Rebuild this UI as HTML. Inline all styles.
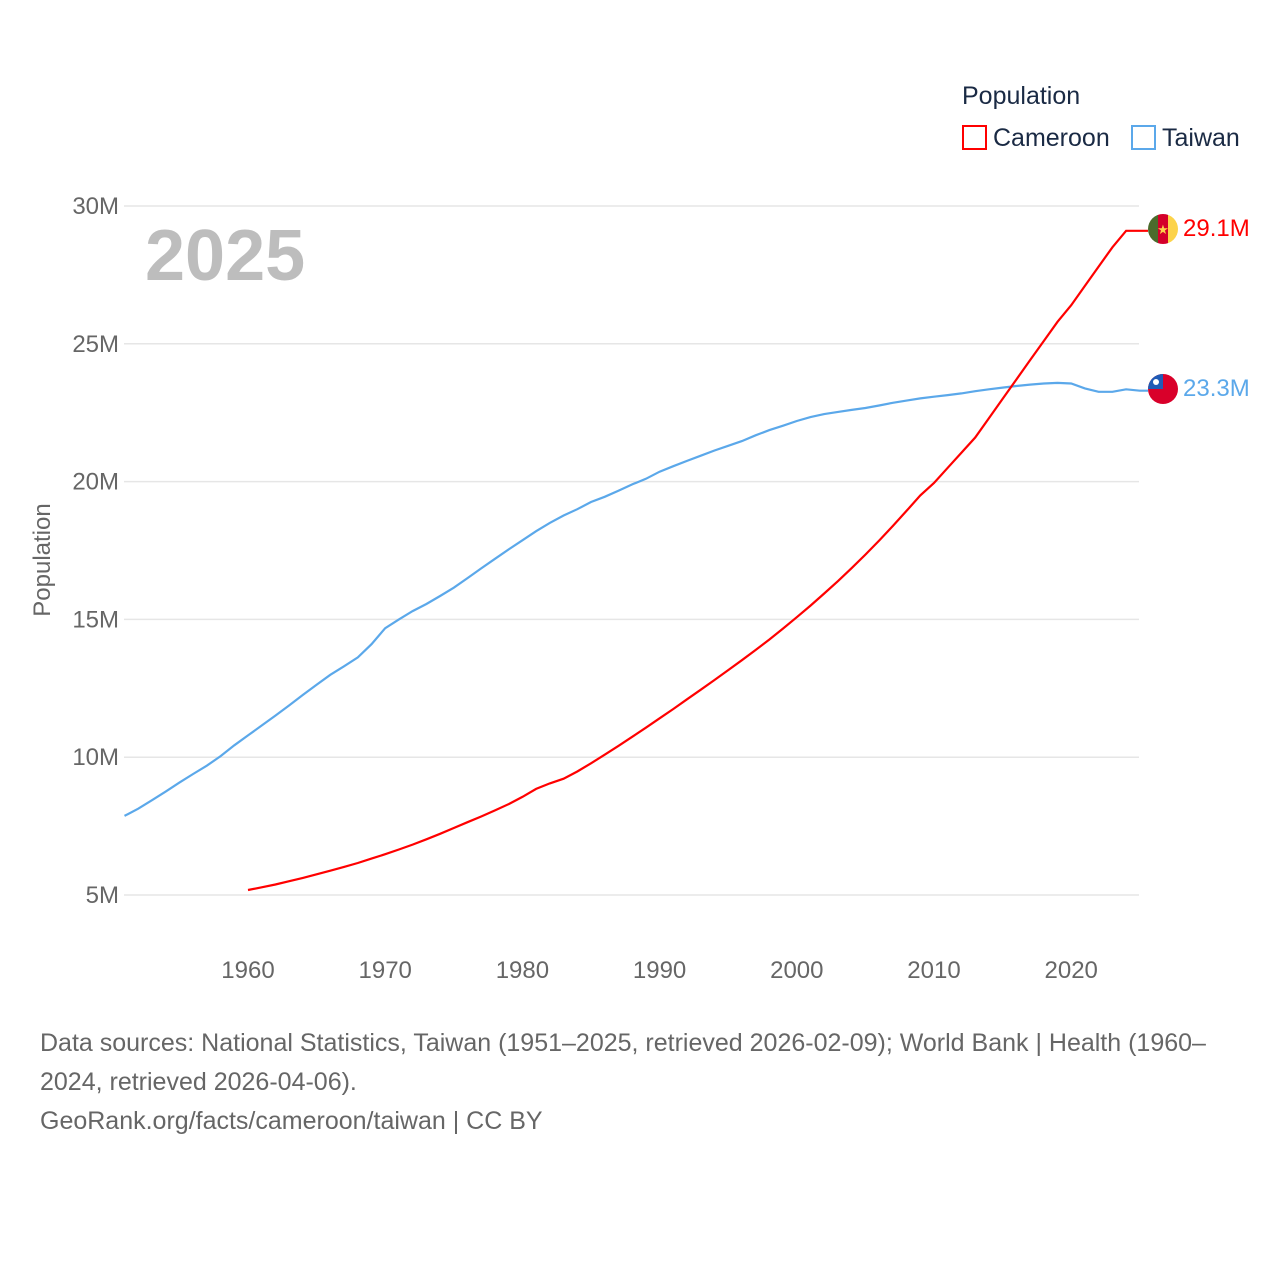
<!DOCTYPE html>
<html><head><meta charset="utf-8"><style>
html,body{margin:0;padding:0;background:#fff;width:1280px;height:1280px;overflow:hidden;font-family:"Liberation Sans",sans-serif}
svg{position:absolute;left:0;top:0}
.foot{position:absolute;left:40px;top:1024px;width:1220px;font-size:25px;line-height:39px;color:#666}
</style></head><body>
<svg width="1280" height="1280">
<g id="grid"></g>
<g id="yt"></g>
<g id="xt"></g>
<text x="50" y="560" transform="rotate(-90 50 560)" text-anchor="middle" font-size="24" fill="#666">Population</text>
<text x="145" y="280" font-size="72" font-weight="bold" fill="#bdbdbd">2025</text>
<text x="962" y="104" font-size="25" fill="#1a2a44">Population</text>
<g><rect x="963" y="126" width="23" height="23" fill="none" stroke="#ff0000" stroke-width="2"/><text x="993" y="146" font-size="25" fill="#1a2a44">Cameroon</text></g>
<g><rect x="1132" y="126" width="23" height="23" fill="none" stroke="#5ba8ea" stroke-width="2"/><text x="1162" y="146" font-size="25" fill="#1a2a44">Taiwan</text></g>
<path id="tw" fill="none" stroke="#5ba8ea" stroke-width="2.2"/>
<path id="cm" fill="none" stroke="#ff0000" stroke-width="2.2"/>
<g>
<clipPath id="c1"><circle cx="1163" cy="229" r="15"/></clipPath>
<g clip-path="url(#c1)"><rect x="1148" y="214" width="10" height="30" fill="#4b6b2c"/><rect x="1158" y="214" width="10" height="30" fill="#d4002a"/><rect x="1168" y="214" width="10" height="30" fill="#fcd34a"/></g>
<text x="1163" y="234" font-size="13" fill="#fcd34a" text-anchor="middle">★</text></g>
<g>
<clipPath id="c2"><circle cx="1163" cy="389" r="15"/></clipPath>
<g clip-path="url(#c2)"><rect x="1148" y="374" width="30" height="30" fill="#d9002a"/><rect x="1148" y="374" width="15" height="15" fill="#1f5bb6"/><circle cx="1156" cy="382" r="3" fill="#fff"/></g></g>
<text id="cml" x="1183" y="236" font-size="24" fill="#ff0000">29.1M</text>
<text id="twl" x="1183" y="396" font-size="24" fill="#5ba8ea">23.3M</text>
</svg>
<div class="foot">Data sources: National Statistics, Taiwan (1951–2025, retrieved 2026-02-09); World Bank | Health (1960–2024, retrieved 2026-04-06).<br>GeoRank.org/facts/cameroon/taiwan | CC BY</div>
<script>
const yTicks=[5,10,15,20,25,30];
const yTickLabels=["5M","10M","15M","20M","25M","30M"];
const xTicks=[1960,1970,1980,1990,2000,2010,2020];
const taiwanStart=1951;
const taiwanValues=[7.87,8.13,8.44,8.75,9.08,9.39,9.69,10.04,10.43,10.79,11.15,11.51,11.88,12.26,12.63,12.99,13.30,13.62,14.1,14.68,15.0,15.3,15.56,15.85,16.15,16.5,16.85,17.2,17.54,17.87,18.2,18.5,18.77,19.0,19.26,19.45,19.67,19.9,20.1,20.36,20.56,20.75,20.94,21.13,21.3,21.47,21.68,21.87,22.03,22.2,22.34,22.45,22.53,22.6,22.67,22.76,22.86,22.94,23.02,23.08,23.14,23.2,23.28,23.35,23.41,23.47,23.52,23.56,23.58,23.56,23.38,23.26,23.26,23.35,23.3];
const cameroonStart=1960;
const cameroonValues=[5.18,5.28,5.38,5.5,5.62,5.75,5.88,6.02,6.16,6.32,6.48,6.65,6.83,7.02,7.22,7.43,7.64,7.85,8.07,8.3,8.56,8.85,9.05,9.22,9.48,9.78,10.09,10.41,10.74,11.07,11.41,11.75,12.1,12.45,12.8,13.16,13.52,13.89,14.27,14.67,15.08,15.5,15.94,16.39,16.86,17.35,17.86,18.39,18.94,19.5,19.95,20.5,21.05,21.6,22.3,23.0,23.7,24.4,25.1,25.8,26.4,27.1,27.8,28.5,29.1];
const NS="http://www.w3.org/2000/svg";
const X=y=>248+(y-1960)*13.72;
const Y=v=>895-(v-5)*27.56;
const grid=document.getElementById('grid'),yt=document.getElementById('yt'),xt=document.getElementById('xt');
yTicks.forEach((v,i)=>{
 const l=document.createElementNS(NS,'line');
 
 
 l.setAttribute('x1',124);l.setAttribute('x2',1139);l.setAttribute('y1',Y(v));l.setAttribute('y2',Y(v));
 l.setAttribute('stroke','#e6e6e6');l.setAttribute('stroke-width','1.5');grid.appendChild(l);
 const t=document.createElementNS(NS,'text');
 
 
 t.setAttribute('x',119);t.setAttribute('y',Y(v)+8);t.setAttribute('text-anchor','end');
 t.setAttribute('font-size','24');t.setAttribute('fill','#666');t.textContent=yTickLabels[i];yt.appendChild(t);
});
xTicks.forEach(v=>{
 const t=document.createElementNS(NS,'text');
 
 
 t.setAttribute('x',X(v));t.setAttribute('y',978);t.setAttribute('text-anchor','middle');
 t.setAttribute('font-size','24');t.setAttribute('fill','#666');t.textContent=v;xt.appendChild(t);
});
function path(start,vals){return vals.map((v,i)=>(i?'L':'M')+X(start+i).toFixed(1)+' '+Y(v).toFixed(1)).join(' ');}
const tw=taiwanValues, cm=cameroonValues;
document.getElementById('tw').setAttribute('d',path(taiwanStart,tw)+' L1148 '+Y(tw[tw.length-1]).toFixed(1));
document.getElementById('cm').setAttribute('d',path(cameroonStart,cm)+' L1148 '+Y(cm[cm.length-1]).toFixed(1));
document.getElementById('cml').textContent=cm[cm.length-1].toFixed(1)+'M';
document.getElementById('twl').textContent=tw[tw.length-1].toFixed(1)+'M';
</script>
</body></html>
